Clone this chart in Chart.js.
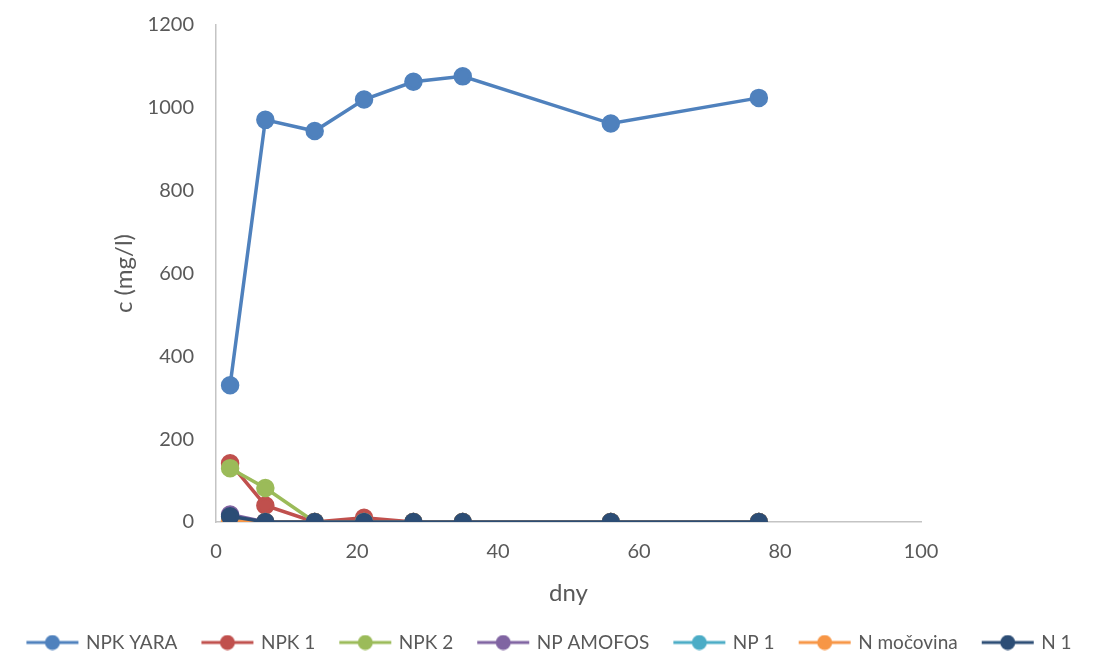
<!DOCTYPE html>
<html>
<head>
<meta charset="utf-8">
<script src="https://cdn.jsdelivr.net/npm/chart.js@4/dist/chart.umd.min.js"></script>
<style>
  html, body { margin: 0; padding: 0; background: #fff; }
  #wrap { width: 1100px; height: 654px; }
</style>
</head>
<body>
<div id="wrap"><canvas id="chart" width="1100" height="654"></canvas></div>
<script>
// dny (days)
const days = [2, 7, 14, 21, 28, 35, 56, 77];

// c (mg/l) per fertiliser
const npkYara = [330, 971, 944, 1020, 1063, 1076, 962, 1024];
const npk1 = [142, 40, 0, 10, 0, 0, 0, 0];
const npk2 = [130, 82, 0, 0, 0, 0, 0, 0];
const npAmofos = [18, 0, 0, 0, 0, 0, 0, 0];
const np1 = [5, 0, 0, 0, 0, 0, 0, 0];
const nMocovina = [3, 0, 0, 0, 0, 0, 0, 0];
const n1 = [14, 0, 0, 0, 0, 0, 0, 0];

const seriesNames = ['NPK YARA', 'NPK 1', 'NPK 2', 'NP AMOFOS', 'NP 1', 'N močovina', 'N 1'];
const seriesValues = [npkYara, npk1, npk2, npAmofos, np1, nMocovina, n1];
const seriesColors = ['#4F81BD', '#C0504D', '#9BBB59', '#8064A2', '#4BACC6', '#F79646', '#2C4D75'];

const FONT = 'Lato, "Open Sans", sans-serif';
const TEXT = '#595959';
const SIDE = -30; // negative side padding lets the legend use one full-width row

// legend marker: short line with a dot in the middle
function legendMarker(color) {
  const c = document.createElement('canvas');
  c.width = 54; c.height = 16;
  const ctx = c.getContext('2d');
  ctx.strokeStyle = color;
  ctx.lineWidth = 3;
  ctx.beginPath();
  ctx.moveTo(1, 8); ctx.lineTo(53, 8);
  ctx.stroke();
  ctx.fillStyle = color;
  ctx.beginPath();
  ctx.arc(27, 8, 7.5, 0, Math.PI * 2);
  ctx.fill();
  return c;
}

const datasets = seriesNames.map((name, i) => ({
  label: name,
  data: days.map((d, j) => ({ x: d, y: seriesValues[i][j] })),
  borderColor: seriesColors[i],
  backgroundColor: seriesColors[i],
  pointBackgroundColor: seriesColors[i],
  pointBorderColor: seriesColors[i],
  borderWidth: 3.5,
  pointRadius: 7.5,
  pointHoverRadius: 7.5,
  showLine: true,
  tension: 0,
  order: seriesNames.length - i,
  pointStyle: 'circle'
}));

new Chart(document.getElementById('chart'), {
  type: 'scatter',
  data: { datasets },
  options: {
    responsive: false,
    animation: false,
    layout: { autoPadding: false, padding: { left: SIDE, right: SIDE, top: 25, bottom: -8 } },
    plugins: {
      tooltip: { enabled: false },
      legend: {
        position: 'bottom',
        labels: {
          usePointStyle: true,
          pointStyleWidth: 48,
          padding: 26,
          color: TEXT,
          font: { family: FONT, size: 19 },
          sort: (a, b) => a.datasetIndex - b.datasetIndex,
          generateLabels: (chart) => chart.data.datasets.map((ds, i) => ({
            text: ds.label,
            fontColor: TEXT,
            pointStyle: legendMarker(ds.borderColor),
            fillStyle: ds.borderColor,
            strokeStyle: ds.borderColor,
            lineWidth: 0,
            hidden: false,
            datasetIndex: i
          }))
        }
      }
    },
    scales: {
      x: {
        type: 'linear',
        min: 0,
        max: 100,
        ticks: { stepSize: 20, color: TEXT, padding: 18, font: { family: FONT, size: 20 }, callback: (v) => String(v) },
        grid: { display: false, drawTicks: false },
        border: { display: true, color: '#C4C4C4', width: 1.5 },
        title: { display: true, text: 'dny', color: TEXT, font: { family: FONT, size: 24 }, padding: { top: 0, bottom: -1 } },
        afterFit: (scale) => { scale.height = 85; }
      },
      y: {
        position: 'left',
        min: 0,
        max: 1200,
        ticks: { stepSize: 200, color: TEXT, padding: 22, font: { family: FONT, size: 20 }, callback: (v) => String(v) },
        grid: { display: false, drawTicks: false },
        border: { display: true, color: '#C4C4C4', width: 1.5 },
        title: { display: true, text: 'c (mg/l)', color: TEXT, font: { family: FONT, size: 24 }, padding: { top: 110 - SIDE, bottom: 0 } },
        afterFit: (scale) => {
          scale.width = 216 - SIDE;
          scale.paddingTop = 0;
          scale.paddingBottom = 0;
        }
      },
      // empty right-hand spacer so the plot ends where the reference does
      spacer: {
        position: 'right',
        display: true,
        ticks: { display: false },
        grid: { display: false, drawTicks: false },
        border: { display: false },
        afterFit: (scale) => { scale.width = 179 - SIDE; }
      }
    }
  }
});
</script>
</body>
</html>
